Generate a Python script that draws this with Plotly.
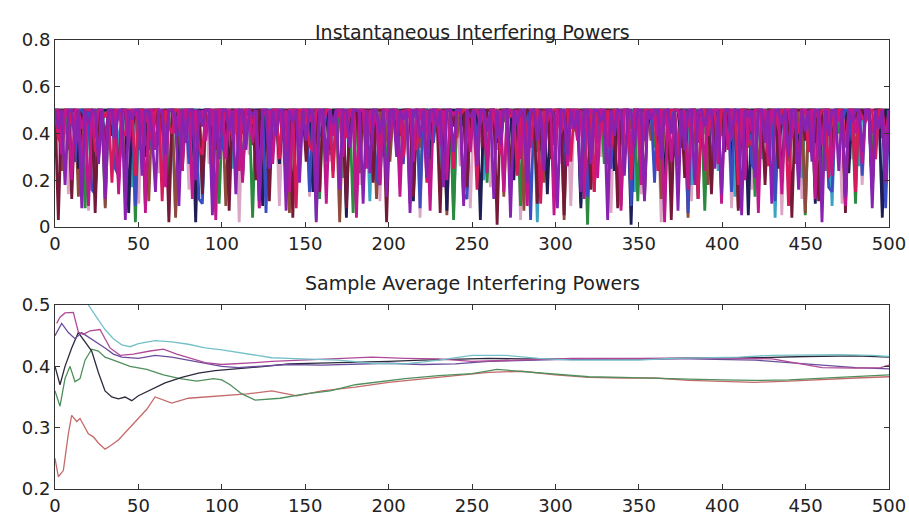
import plotly.graph_objects as go
from plotly.subplots import make_subplots

# ---------------- top panel: instantaneous powers (hundredths), samples every 2 steps -------------
inst_purple = [
50,42,50,18,50,50,35,50,8,50,44,50,50,27,50,12,50,50,38,50,50,3,50,46,50,
50,22,50,50,40,15,50,50,31,50,50,47,9,50,36,50,50,20,50,43,50,50,5,50,29,
50,50,41,50,14,50,50,33,50,48,50,11,50,50,25,50,39,50,50,7,50,45,50,19,50,
37,50,50,2,50,50,28,50,44,50,16,50,50,34,50,50,49,10,50,23,50,50,40,50,13,
50,50,30,50,46,50,6,50,50,38,50,21,50,50,43,50,17,50,50,32,50,50,9,50,47,
50,26,50,50,41,50,12,50,35,50,50,4,50,44,50,50,19,50,50,37,50,24,50,50,48,
8,50,50,31,50,42,50,15,50,50,27,50,50,45,50,3,50,39,50,50,22,50,50,34,50,
50,11,50,46,50,50,29,50,50,40,50,7,50,33,50,50,18,50,50,43,50,50,25,50,14,
50,50,38,50,50,5,50,47,50,21,50,50,36,50,10,50,50,44,50,30,50,50,16,50,41,
50,28,50,50,2,50,39,50,50,24,50,13,50,45,50,50,32,50,50,8,50,42,50,19,50]
inst_magenta = [
50,50,31,50,47,20,50,50,42,50,9,50,38,50,50,26,50,45,50,14,50,50,35,50,50,
44,50,6,50,50,33,50,49,17,50,50,40,50,24,50,50,12,50,46,50,37,50,50,3,50,
50,29,50,43,50,50,19,50,50,36,50,8,50,48,50,27,50,50,41,50,15,50,50,34,50,
50,45,50,22,50,50,10,50,39,50,50,30,50,47,50,4,50,50,25,50,43,50,18,50,50,
37,50,50,13,50,46,50,28,50,50,41,50,7,50,50,35,50,20,50,48,50,50,11,50,32,
50,50,44,50,23,50,50,38,50,15,50,50,47,50,29,50,9,50,50,40,50,33,50,50,5,
50,42,50,26,50,50,37,50,12,50,49,50,21,50,50,34,50,45,50,7,50,50,31,50,50,
18,50,46,50,50,39,50,2,50,28,50,50,43,50,16,50,50,36,50,24,50,47,50,50,10,
50,33,50,50,44,50,20,50,41,50,6,50,50,30,50,48,50,14,50,50,38,50,25,50,50,
47,50,12,50,35,50,50,22,50,45,50,9,50,50,40,50,27,50,50,17,50,43,50,31,50]
inst_crimson = [
50,38,35,50,50,44,41,50,26,50,50,50,33,30,50,47,50,19,50,50,42,39,50,50,22,
50,50,45,50,36,50,50,11,50,43,40,50,50,28,50,50,46,50,34,31,50,50,14,50,50,
41,50,50,37,50,24,50,50,48,44,50,17,50,50,39,50,50,29,50,45,50,50,8,50,50,
50,35,32,50,50,43,50,50,21,50,47,50,38,50,50,13,50,50,42,40,50,50,27,50,50,
50,50,46,50,30,50,50,36,33,50,50,19,50,44,50,50,41,50,50,25,50,48,50,50,35,
50,16,50,50,43,39,50,50,31,50,50,47,50,22,50,50,37,34,50,50,10,50,45,50,50,
50,40,50,50,28,50,50,44,42,50,50,15,50,50,38,50,33,50,50,46,50,50,20,50,50,
36,50,50,48,50,24,50,50,41,50,50,30,50,45,43,50,50,12,50,50,39,50,50,27,50,
50,50,44,50,18,50,50,37,35,50,50,47,50,26,50,50,42,50,50,9,50,50,40,50,50,
32,50,50,46,50,50,21,50,43,50,50,34,50,50,15,50,47,45,50,50,29,50,50,38,50]
inst_maroon = [
50,3,50,50,50,12,50,50,44,50,50,50,6,50,50,30,50,50,50,18,50,50,50,41,50,
50,50,9,50,50,50,35,50,50,2,50,50,50,24,50,50,50,47,50,14,50,50,50,33,50,
50,50,7,50,50,50,40,50,50,50,20,50,50,50,11,50,50,50,37,50,50,4,50,50,50,
28,50,50,50,15,50,50,50,45,50,50,50,8,50,50,50,31,50,50,50,19,50,50,50,2,
50,50,50,39,50,50,50,13,50,50,50,26,50,50,50,6,50,50,50,43,50,50,50,17,50,
50,50,50,34,50,50,50,1,50,50,50,22,50,50,50,46,50,50,50,10,50,50,50,29,50,
50,50,5,50,50,50,38,50,50,50,16,50,50,50,42,50,50,50,8,50,50,50,27,50,50,
50,12,50,50,50,36,50,50,50,3,50,50,50,21,50,50,50,44,50,50,50,14,50,50,50,
32,50,50,50,7,50,50,50,40,50,50,50,18,50,50,50,25,50,50,50,4,50,50,50,37,
50,50,50,11,50,50,50,29,50,50,50,6,50,50,50,43,50,50,50,16,50,50,50,23,50]
inst_pink = [
50,25,50,50,14,50,50,38,50,50,7,50,50,30,50,50,45,50,50,19,50,50,33,50,50,
10,50,50,41,50,50,23,50,50,5,50,50,36,50,50,16,50,50,47,50,50,27,50,50,12,
50,50,39,50,50,2,50,50,31,50,50,20,50,50,44,50,50,9,50,50,35,50,50,24,50,
50,13,50,50,42,50,50,28,50,50,6,50,50,37,50,50,18,50,50,46,50,50,11,50,50,
32,50,50,21,50,50,40,50,50,4,50,50,29,50,50,15,50,50,43,50,50,26,50,50,8,
50,50,36,50,50,17,50,50,48,50,50,22,50,50,3,50,50,34,50,50,13,50,50,41,50,
50,27,50,50,9,50,50,39,50,50,19,50,50,30,50,50,6,50,50,45,50,50,24,50,50,
14,50,50,37,50,50,2,50,50,28,50,50,42,50,50,11,50,50,33,50,50,20,50,50,47,
50,50,8,50,50,35,50,50,16,50,50,40,50,50,25,50,50,5,50,50,38,50,50,12,50,
50,31,50,50,22,50,50,44,50,50,10,50,50,29,50,50,18,50,50,36,50,50,7,50,50]
inst_teal = [
50,50,50,40,50,50,50,22,50,50,50,46,50,50,50,9,50,50,50,34,50,50,50,17,50,
50,50,50,43,50,50,50,28,50,50,50,5,50,50,50,38,50,50,50,13,50,50,50,47,50,
50,50,50,25,50,50,50,41,50,50,50,8,50,50,50,31,50,50,50,19,50,50,50,44,50,
50,50,50,3,50,50,50,36,50,50,50,21,50,50,50,45,50,50,50,11,50,50,50,30,50,
50,50,50,39,50,50,50,16,50,50,50,48,50,50,50,26,50,50,50,7,50,50,50,42,50,
50,50,50,20,50,50,50,33,50,50,50,12,50,50,50,45,50,50,50,2,50,50,50,37,50,
50,50,50,27,50,50,50,10,50,50,50,43,50,50,50,23,50,50,50,35,50,50,50,15,50,
50,50,50,46,50,50,50,6,50,50,50,32,50,50,50,18,50,50,50,40,50,50,50,24,50,
50,50,50,13,50,50,50,44,50,50,50,29,50,50,50,4,50,50,50,38,50,50,50,21,50,
50,50,50,35,50,50,50,9,50,50,50,47,50,50,50,26,50,50,50,14,50,50,50,41,50]
inst_green = [
50,50,50,50,33,50,50,50,50,8,50,50,50,50,44,50,50,50,50,21,50,50,50,50,2,
50,50,50,50,37,50,50,50,50,15,50,50,50,50,46,50,50,50,50,26,50,50,50,50,10,
50,50,50,50,40,50,50,50,50,4,50,50,50,50,30,50,50,50,50,18,50,50,50,50,43,
50,50,50,50,12,50,50,50,50,35,50,50,50,50,6,50,50,50,50,47,50,50,50,50,23,
50,50,50,50,29,50,50,50,50,14,50,50,50,50,41,50,50,50,50,3,50,50,50,50,36,
50,50,50,50,19,50,50,50,50,45,50,50,50,50,9,50,50,50,50,32,50,50,50,50,16,
50,50,50,50,42,50,50,50,50,1,50,50,50,50,27,50,50,50,50,38,50,50,50,50,11,
50,50,50,50,34,50,50,50,50,20,50,50,50,50,48,50,50,50,50,7,50,50,50,50,39,
50,50,50,50,24,50,50,50,50,13,50,50,50,50,44,50,50,50,50,28,50,50,50,50,5,
50,50,50,50,17,50,50,50,50,40,50,50,50,50,10,50,50,50,50,31,50,50,50,50,46]
inst_navy = [
50,50,47,50,50,50,50,25,50,50,50,50,13,50,50,50,50,39,50,50,50,50,6,50,50,
50,50,30,50,50,50,50,44,50,50,50,50,18,50,50,50,50,2,50,50,50,50,35,50,50,
50,50,21,50,50,50,50,48,50,50,50,50,9,50,50,50,50,27,50,50,50,50,41,50,50,
50,50,15,50,50,50,50,33,50,50,50,50,4,50,50,50,50,45,50,50,50,50,22,50,50,
50,50,38,50,50,50,50,11,50,50,50,50,29,50,50,50,50,7,50,50,50,50,43,50,50,
50,50,3,50,50,50,50,36,50,50,50,50,20,50,50,50,50,46,50,50,50,50,14,50,50,
50,50,32,50,50,50,50,8,50,50,50,50,40,50,50,50,50,24,50,50,50,50,1,50,50,
50,50,44,50,50,50,50,17,50,50,50,50,34,50,50,50,50,12,50,50,50,50,47,50,50,
50,50,26,50,50,50,50,5,50,50,50,50,42,50,50,50,50,19,50,50,50,50,31,50,50,
50,50,10,50,50,50,50,37,50,50,50,50,23,50,50,50,50,46,50,50,50,50,4,50,50]
inst_blue = [
50,44,40,50,50,31,28,50,50,47,50,16,14,50,50,38,50,50,25,22,50,50,45,50,9,
50,50,36,33,50,50,48,50,19,50,50,41,39,50,50,27,50,50,12,10,50,50,43,50,50,
34,31,50,50,46,50,21,50,50,37,35,50,50,6,50,50,42,50,50,29,26,50,50,48,50,
50,15,50,50,40,38,50,50,24,50,50,46,44,50,50,11,50,50,33,50,50,20,18,50,50,
44,50,50,30,27,50,50,47,50,8,50,50,39,36,50,50,23,50,50,45,50,50,14,12,50,
50,37,50,50,26,50,50,49,46,50,50,18,50,50,41,50,50,3,50,50,34,31,50,50,43,
50,50,21,50,50,45,42,50,50,13,50,50,36,50,50,28,25,50,50,47,50,50,9,50,50,
40,37,50,50,19,50,50,44,50,50,31,29,50,50,6,50,50,42,39,50,50,24,50,50,48,
50,50,15,50,50,38,50,50,27,24,50,50,46,50,50,11,50,50,35,33,50,50,20,50,50,
43,50,50,30,50,50,17,15,50,50,45,50,50,37,50,50,22,50,50,41,39,50,50,8,50]
inst_brown = [
50,50,24,50,46,50,50,13,50,50,39,50,50,29,50,8,50,50,43,50,50,20,50,47,50,
33,50,50,11,50,50,41,50,26,50,50,4,50,50,37,50,50,17,50,45,50,50,30,50,50,
50,9,50,50,42,50,22,50,50,35,50,50,14,50,48,50,50,27,50,50,6,50,50,39,50,
50,50,19,50,50,44,50,31,50,50,2,50,50,36,50,50,23,50,47,50,50,12,50,50,40,
28,50,50,46,50,50,10,50,50,34,50,50,21,50,50,43,50,5,50,50,38,50,50,16,50,
50,47,50,50,25,50,50,40,50,13,50,50,32,50,50,7,50,50,44,50,50,19,50,50,35,
50,50,3,50,50,41,50,50,28,50,50,15,50,46,50,50,33,50,50,9,50,50,42,50,50,
22,50,50,37,50,50,12,50,50,45,50,26,50,50,4,50,50,39,50,50,18,50,50,31,50,
50,43,50,50,8,50,50,34,50,50,20,50,47,50,50,14,50,50,40,50,50,27,50,50,6,
50,50,36,50,50,24,50,50,44,50,50,11,50,50,30,50,50,45,50,17,50,50,38,50,50]

top_series = [
    ("pink", inst_pink, "#dba6c6"),
    ("teal", inst_teal, "#3aa3c4"),
    ("green", inst_green, "#2a8a40"),
    ("brown", inst_brown, "#8e4a3c"),
    ("navy", inst_navy, "#1e1e55"),
    ("blue", inst_blue, "#3a4cc0"),
    ("maroon", inst_maroon, "#741a38"),
    ("crimson", inst_crimson, "#d61a5e"),
    ("magenta", inst_magenta, "#c0168e"),
    ("purple", inst_purple, "#8a22b0"),
]

# ---------------- bottom panel: sample averages (x, value) -------------
avg_cyan_x = [10, 15, 20, 25, 30, 35, 40, 45, 50, 60, 70, 80, 90, 100, 110, 120, 130, 140, 150, 170, 190, 210, 230, 250, 270, 290, 310, 330, 350, 370, 390, 410, 430, 450, 470, 490, 500]
avg_cyan_y = [0.56, 0.53, 0.50, 0.48, 0.46, 0.445, 0.435, 0.432, 0.437, 0.442, 0.44, 0.436, 0.43, 0.427, 0.423, 0.418, 0.414, 0.413, 0.412, 0.41, 0.405, 0.404, 0.41, 0.418, 0.418, 0.413, 0.41, 0.41, 0.41, 0.413, 0.414, 0.415, 0.418, 0.419, 0.419, 0.418, 0.416]

avg_magenta_x = [1, 3, 6, 11, 14, 17, 21, 27, 30, 33, 39, 47, 57, 65, 73, 81, 90, 100, 110, 120, 130, 150, 170, 190, 210, 230, 250, 270, 290, 310, 350, 400, 430, 445, 460, 480, 495, 500]
avg_magenta_y = [0.47, 0.48, 0.487, 0.488, 0.456, 0.452, 0.458, 0.46, 0.445, 0.43, 0.418, 0.42, 0.425, 0.428, 0.42, 0.413, 0.406, 0.403, 0.404, 0.406, 0.408, 0.41, 0.412, 0.415, 0.413, 0.412, 0.408, 0.41, 0.412, 0.413, 0.413, 0.414, 0.412, 0.405, 0.398, 0.397, 0.398, 0.402]

avg_purple_x = [0, 4, 8, 12, 16, 20, 25, 30, 35, 40, 50, 60, 70, 80, 90, 100, 110, 120, 140, 160, 180, 200, 220, 240, 260, 280, 300, 340, 380, 420, 440, 460, 480, 500]
avg_purple_y = [0.45, 0.47, 0.455, 0.445, 0.455, 0.448, 0.44, 0.43, 0.42, 0.415, 0.413, 0.418, 0.415, 0.41, 0.405, 0.40, 0.398, 0.40, 0.403, 0.402, 0.403, 0.405, 0.403, 0.404, 0.408, 0.41, 0.411, 0.412, 0.412, 0.41, 0.406, 0.402, 0.398, 0.396]

avg_black_x = [0, 3, 6, 10, 14, 18, 22, 26, 30, 34, 38, 42, 46, 50, 58, 66, 76, 86, 96, 106, 116, 126, 140, 160, 180, 200, 220, 240, 260, 280, 300, 330, 360, 390, 420, 450, 480, 500]
avg_black_y = [0.40, 0.37, 0.40, 0.43, 0.455, 0.44, 0.425, 0.39, 0.36, 0.35, 0.347, 0.35, 0.344, 0.352, 0.363, 0.373, 0.382, 0.389, 0.393, 0.395, 0.398, 0.40, 0.404, 0.405, 0.407, 0.408, 0.41, 0.412, 0.413, 0.412, 0.412, 0.411, 0.412, 0.414, 0.414, 0.416, 0.417, 0.415]

avg_green_x = [0, 3, 6, 9, 12, 15, 18, 22, 26, 30, 35, 40, 45, 55, 65, 75, 85, 95, 100, 105, 112, 120, 135, 150, 165, 180, 195, 210, 230, 250, 265, 280, 300, 320, 340, 360, 380, 400, 420, 440, 460, 480, 500]
avg_green_y = [0.36, 0.335, 0.38, 0.40, 0.375, 0.38, 0.41, 0.428, 0.425, 0.415, 0.41, 0.405, 0.40, 0.395, 0.386, 0.38, 0.376, 0.38, 0.378, 0.37, 0.355, 0.345, 0.348, 0.355, 0.36, 0.37, 0.375, 0.38, 0.385, 0.388, 0.395, 0.392, 0.388, 0.383, 0.382, 0.38, 0.379, 0.378, 0.377, 0.378, 0.381, 0.383, 0.386]

avg_red_x = [0, 2, 5, 8, 10, 13, 15, 18, 20, 23, 26, 30, 33, 38, 45, 50, 55, 60, 65, 70, 80, 90, 100, 115, 130, 145, 160, 180, 200, 220, 240, 260, 280, 300, 320, 340, 360, 380, 400, 420, 440, 460, 480, 500]
avg_red_y = [0.25, 0.22, 0.23, 0.29, 0.32, 0.31, 0.315, 0.30, 0.29, 0.285, 0.275, 0.265, 0.27, 0.28, 0.30, 0.315, 0.33, 0.35, 0.345, 0.34, 0.348, 0.35, 0.352, 0.355, 0.36, 0.352, 0.36, 0.366, 0.374, 0.38, 0.385, 0.39, 0.392, 0.386, 0.382, 0.381, 0.381, 0.377, 0.375, 0.374, 0.376, 0.379, 0.381, 0.383]

bottom_series = [
    (avg_red_x, avg_red_y, "#c46a6a"),
    (avg_green_x, avg_green_y, "#4f8f5c"),
    (avg_black_x, avg_black_y, "#2a2a3c"),
    (avg_purple_x, avg_purple_y, "#6a4c9c"),
    (avg_magenta_x, avg_magenta_y, "#b04a98"),
    (avg_cyan_x, avg_cyan_y, "#74c0c8"),
]

title_top = "Instantaneous Interfering Powers"
title_bottom = "Sample Average Interfering Powers"
x_ticks = [0, 50, 100, 150, 200, 250, 300, 350, 400, 450, 500]
top_y_ticks = [0, 0.2, 0.4, 0.6, 0.8]
bottom_y_ticks = [0.2, 0.3, 0.4, 0.5]

fig = make_subplots(rows=2, cols=1)

for name, vals, color in top_series:
    n = len(vals)
    xs = [500 * i / (n - 1) for i in range(n)]
    fig.add_trace(go.Scatter(x=xs, y=[v / 100 for v in vals], mode="lines",
                             line=dict(color=color, width=2.8), showlegend=False,
                             hoverinfo="skip"), row=1, col=1)

for xs, ys, color in bottom_series:
    fig.add_trace(go.Scatter(x=xs, y=ys, mode="lines",
                             line=dict(color=color, width=1.3), showlegend=False,
                             hoverinfo="skip"), row=2, col=1)

tick_font = dict(family="DejaVu Sans", size=18, color="#222222")
axis_common = dict(showline=True, linecolor="#333333", linewidth=1, mirror="ticks",
                   ticks="inside", ticklen=5, tickcolor="#333333", showgrid=False,
                   zeroline=False, tickfont=tick_font, automargin=False)

fig.update_xaxes(range=[0, 500], tickvals=x_ticks, **axis_common)
fig.update_yaxes(row=1, col=1, range=[0, 0.8], tickvals=top_y_ticks,
                 ticktext=[str(t) if t != 0 else "0" for t in top_y_ticks], **axis_common)
fig.update_yaxes(row=2, col=1, range=[0.2, 0.5], tickvals=bottom_y_ticks,
                 ticktext=[str(t) for t in bottom_y_ticks], **axis_common)

top_m, bot_m = 38, 29
plot_h = 518 - top_m - bot_m
# pixel rows of the two panels (top of frame, bottom of frame)
top_panel = (40, 227)
bot_panel = (305, 489)
fig.update_layout(
    width=909, height=518,
    margin=dict(l=55, r=20, t=top_m, b=bot_m),
    paper_bgcolor="white", plot_bgcolor="white",
    xaxis=dict(domain=[0, 1]),
    yaxis=dict(domain=[1 - (top_panel[1] - top_m) / plot_h, 1 - (top_panel[0] - top_m) / plot_h]),
    xaxis2=dict(domain=[0, 1]),
    yaxis2=dict(domain=[1 - (bot_panel[1] - top_m) / plot_h, 1 - (bot_panel[0] - top_m) / plot_h]),
    annotations=[
        dict(text=title_top, x=0.5, y=1 + (top_m - 19) / plot_h, xref="paper", yref="paper",
             showarrow=False, font=dict(family="DejaVu Sans", size=19, color="#222222")),
        dict(text=title_bottom, x=0.5, y=1 - (283 - top_m) / plot_h, xref="paper", yref="paper",
             showarrow=False, font=dict(family="DejaVu Sans", size=19, color="#222222")),
    ],
)

fig.write_html("out.html")
